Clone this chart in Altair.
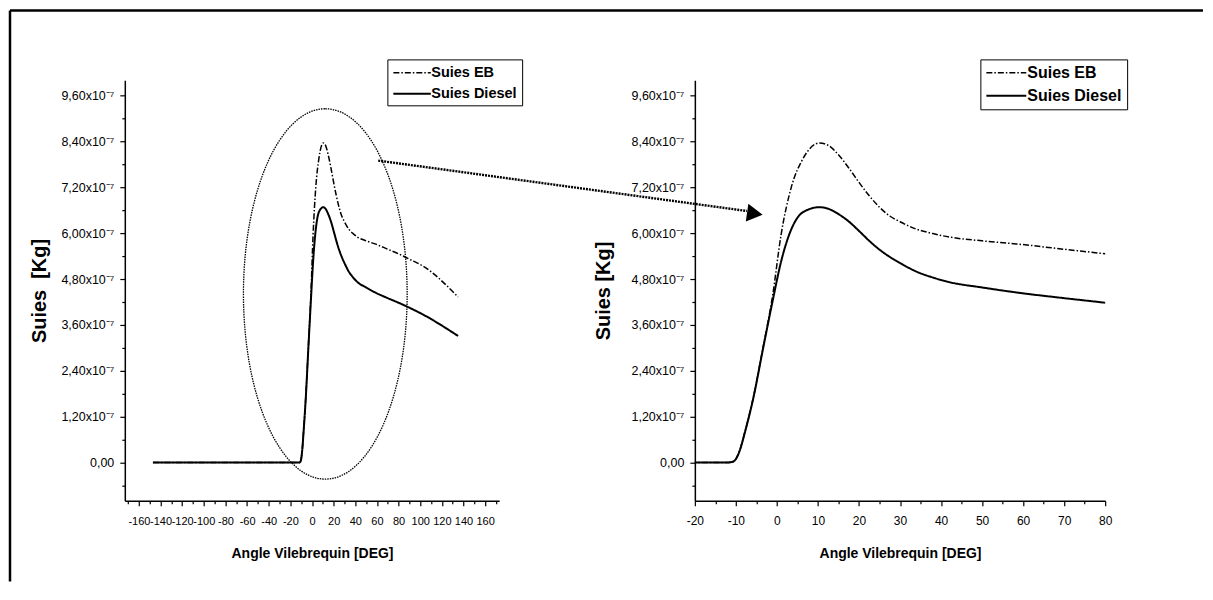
import json
import altair as alt
import pandas as pd

# ---------------- data ----------------
ANGLE = [-147, -12, -11, -10, -9, -7.8, -5.8, -3.4, -1, 1, 3.5, 6.35, 10.4, 12.5, 15, 17.7,
         20, 22.5, 25, 27.5, 30, 33.9, 38, 42, 50, 58.3, 70, 80, 90, 102, 135]
SUIES_EB = [0, 0, 0.01, 0.09, 0.34, 0.8, 1.68, 3.0, 4.4, 5.95, 7.2, 7.95, 8.36, 8.3, 8.05, 7.68,
            7.33, 6.98, 6.68, 6.45, 6.3, 6.11, 5.99, 5.9, 5.8, 5.72, 5.58, 5.46, 5.32, 5.15, 4.33]
SUIES_DIESEL = [0, 0, 0.01, 0.09, 0.33, 0.79, 1.66, 2.97, 4.25, 5.25, 6.1, 6.55, 6.68, 6.64, 6.5,
                6.29, 6.06, 5.8, 5.57, 5.38, 5.22, 5.0, 4.84, 4.72, 4.58, 4.45, 4.3, 4.18, 4.05,
                3.88, 3.31]
SCALE = 1e-7
SERIES = ["Suies EB", "Suies Diesel"]

Y_TICK_VALUES = [i * 0.6e-7 for i in range(-1, 17)]
Y_TICK_LABELS = ["", "0,00", "", "1,20x10⁻⁷", "", "2,40x10⁻⁷", "", "3,60x10⁻⁷", "",
                 "4,80x10⁻⁷", "", "6,00x10⁻⁷", "", "7,20x10⁻⁷", "", "8,40x10⁻⁷", "", "9,60x10⁻⁷"]
XL_TICK_VALUES = list(range(-170, 171, 10))
XL_TICK_LABELS = ["", "-160", "", "-140", "", "-120", "", "-100", "", "-80", "", "-60", "",
                  "-40", "", "-20", "", "0", "", "20", "", "40", "", "60", "", "80", "",
                  "100", "", "120", "", "140", "", "160", ""]
XR_TICK_VALUES = list(range(-20, 81, 5))
XR_TICK_LABELS = ["-20", "", "-10", "", "0", "", "10", "", "20", "", "30", "", "40", "",
                  "50", "", "60", "", "70", "", "80"]

# annotation: zoom ellipse and arrow (left-panel data coordinates)
ELLIPSE_X = [12.3]
ELLIPSE_Y = [4.41e-7]
ARROW_X = [61.2, 402.0]
ARROW_Y = [7.90e-7, 6.58e-7]
ARROWHEAD_X = [409.3]
ARROWHEAD_Y = [6.51e-7]

rows = []
for a_, e, d in zip(ANGLE, SUIES_EB, SUIES_DIESEL):
    rows.append({"angle": a_, "suies": e * SCALE, "serie": SERIES[0]})
    rows.append({"angle": a_, "suies": d * SCALE, "serie": SERIES[1]})
df = pd.DataFrame(rows)

FONT = "Liberation Sans"


def y_axis(title, pad):
    return alt.Axis(values=Y_TICK_VALUES,
                    labelExpr=json.dumps(Y_TICK_LABELS, ensure_ascii=False) + "[round(datum.value/6e-8)+1]",
                    title=title, titleFont=FONT, titleFontSize=20, titleFontWeight="bold",
                    titlePadding=pad, labelFont=FONT, labelFontSize=12.5, labelPadding=6,
                    labelOverlap=False,
                    tickSize={"condition": {"test": "abs(round(datum.value/6e-8)) % 2 == 1", "value": 3}, "value": 5},
                    tickColor="black", domainColor="black", domainWidth=1.5, tickWidth=1.2,
                    grid=False, labelColor="black", titleColor="black")


def x_axis(values, labels, start, step, minor_test, size):
    return alt.Axis(values=values,
                    labelExpr=json.dumps(labels) + f"[round((datum.value-({start}))/{step})]",
                    title="Angle Vilebrequin [DEG]", titleFont=FONT, titleFontSize=14,
                    titleFontWeight="bold", titlePadding=20,
                    labelFont=FONT, labelFontSize=size, labelPadding=10, labelOverlap=False,
                    labelFlush=False, labelBound=False,
                    tickSize={"condition": {"test": minor_test, "value": 3}, "value": 5},
                    tickColor="black", domainColor="black", domainWidth=1.5, tickWidth=1.2,
                    grid=False, labelColor="black", titleColor="black")


def legend(x, y, fsize, path, offset):
    return alt.Legend(orient="none", legendX=x, legendY=y, title=None, strokeColor="black",
                      fillColor="white", padding=5, symbolType=path, symbolSize=225,
                      symbolStrokeColor="black", symbolFillColor="transparent",
                      symbolStrokeWidth=1.6, labelFont=FONT, labelFontSize=fsize,
                      labelFontWeight="bold", labelColor="black", rowPadding=6,
                      labelOffset=offset, symbolOffset=0)


YSCALE = alt.Scale(domain=[-1e-7, 1e-6], nice=False, zero=False)
XLSCALE = alt.Scale(domain=[-173, 173], nice=False, zero=False)
DASH = alt.Scale(domain=SERIES, range=[[6, 2, 1.5, 2], [1, 0]])
WIDTH = alt.Scale(domain=SERIES, range=[1.5, 2.0])

XL_AXIS = x_axis(XL_TICK_VALUES, XL_TICK_LABELS, -170, 10, "abs(datum.value) % 20 == 10", 11)
YL_AXIS = y_axis("Suies \u00a0[Kg]", 11)


def lx():
    return alt.X("angle:Q", scale=XLSCALE, axis=XL_AXIS)


def ly():
    return alt.Y("suies:Q", scale=YSCALE, axis=YL_AXIS)


# ---------------- left panel ----------------
left_lines = alt.Chart(df).mark_line(color="black", interpolate="monotone", clip=False).encode(
    x=lx(), y=ly(),
    strokeDash=alt.StrokeDash("serie:N", scale=DASH,
                              legend=legend(263, -21, 14.5, "M -1 0 L 4 0", 22)),
    strokeWidth=alt.StrokeWidth("serie:N", scale=WIDTH, legend=None),
)

ell = pd.DataFrame({"angle": ELLIPSE_X, "suies": ELLIPSE_Y})
a = 0.442
k = 0.5523
ELLIPSE_PATH = (f"M 0 -1 C {k*a:.4f} -1 {a} {-k} {a} 0 C {a} {k} {k*a:.4f} 1 0 1 "
                f"C {-k*a:.4f} 1 {-a} {k} {-a} 0 C {-a} {-k} {-k*a:.4f} -1 0 -1 Z")
ellipse = alt.Chart(ell).mark_point(shape=ELLIPSE_PATH, size=137641, filled=False,
                                    color="black", strokeWidth=1.3, strokeDash=[1.5, 1],
                                    opacity=1, clip=False).encode(x=lx(), y=ly())

arr = pd.DataFrame({"angle": ARROW_X, "suies": ARROW_Y})
arrow = alt.Chart(arr).mark_line(color="black", strokeWidth=2.4, strokeDash=[2, 1],
                                 clip=False).encode(x=lx(), y=ly())
head = pd.DataFrame({"angle": ARROWHEAD_X, "suies": ARROWHEAD_Y})
arrowhead = alt.Chart(head).mark_point(shape="triangle-right", filled=True, size=330,
                                       color="black", opacity=1, angle=8,
                                       clip=False).encode(x=lx(), y=ly())

one = pd.DataFrame({"z": [0]})
frame_top = alt.Chart(one).mark_rule(color="black", strokeWidth=2.5).encode(
    x=alt.value(-115), x2=alt.value(1080), y=alt.value(-70))
frame_left = alt.Chart(one).mark_rule(color="black", strokeWidth=2.5).encode(
    x=alt.value(-115), y=alt.value(-70), y2=alt.value(502))

left = alt.layer(left_lines, ellipse, arrow, arrowhead, frame_top, frame_left).properties(
    width=375, height=421)

# ---------------- right panel ----------------
right = alt.Chart(df).mark_line(color="black", interpolate="monotone", clip=True).encode(
    x=alt.X("angle:Q", scale=alt.Scale(domain=[-20, 80], nice=False, zero=False),
            axis=x_axis(XR_TICK_VALUES, XR_TICK_LABELS, -20, 5, "abs(datum.value) % 10 == 5", 12)),
    y=alt.Y("suies:Q", scale=YSCALE, axis=y_axis("Suies [Kg]", 17)),
    strokeDash=alt.StrokeDash("serie:N", scale=DASH,
                              legend=legend(286, -21, 16, "M -1 0 L 4.33 0", 25)),
    strokeWidth=alt.StrokeWidth("serie:N", scale=WIDTH, legend=None),
).properties(width=411, height=421)

chart = alt.hconcat(left, right, spacing=196, bounds="flush").resolve_scale(
    strokeDash="independent", strokeWidth="independent"
).configure_view(stroke=None).properties(padding=0, background="white")

chart.save("out.html", embed_options={"renderer": "svg", "actions": False})
